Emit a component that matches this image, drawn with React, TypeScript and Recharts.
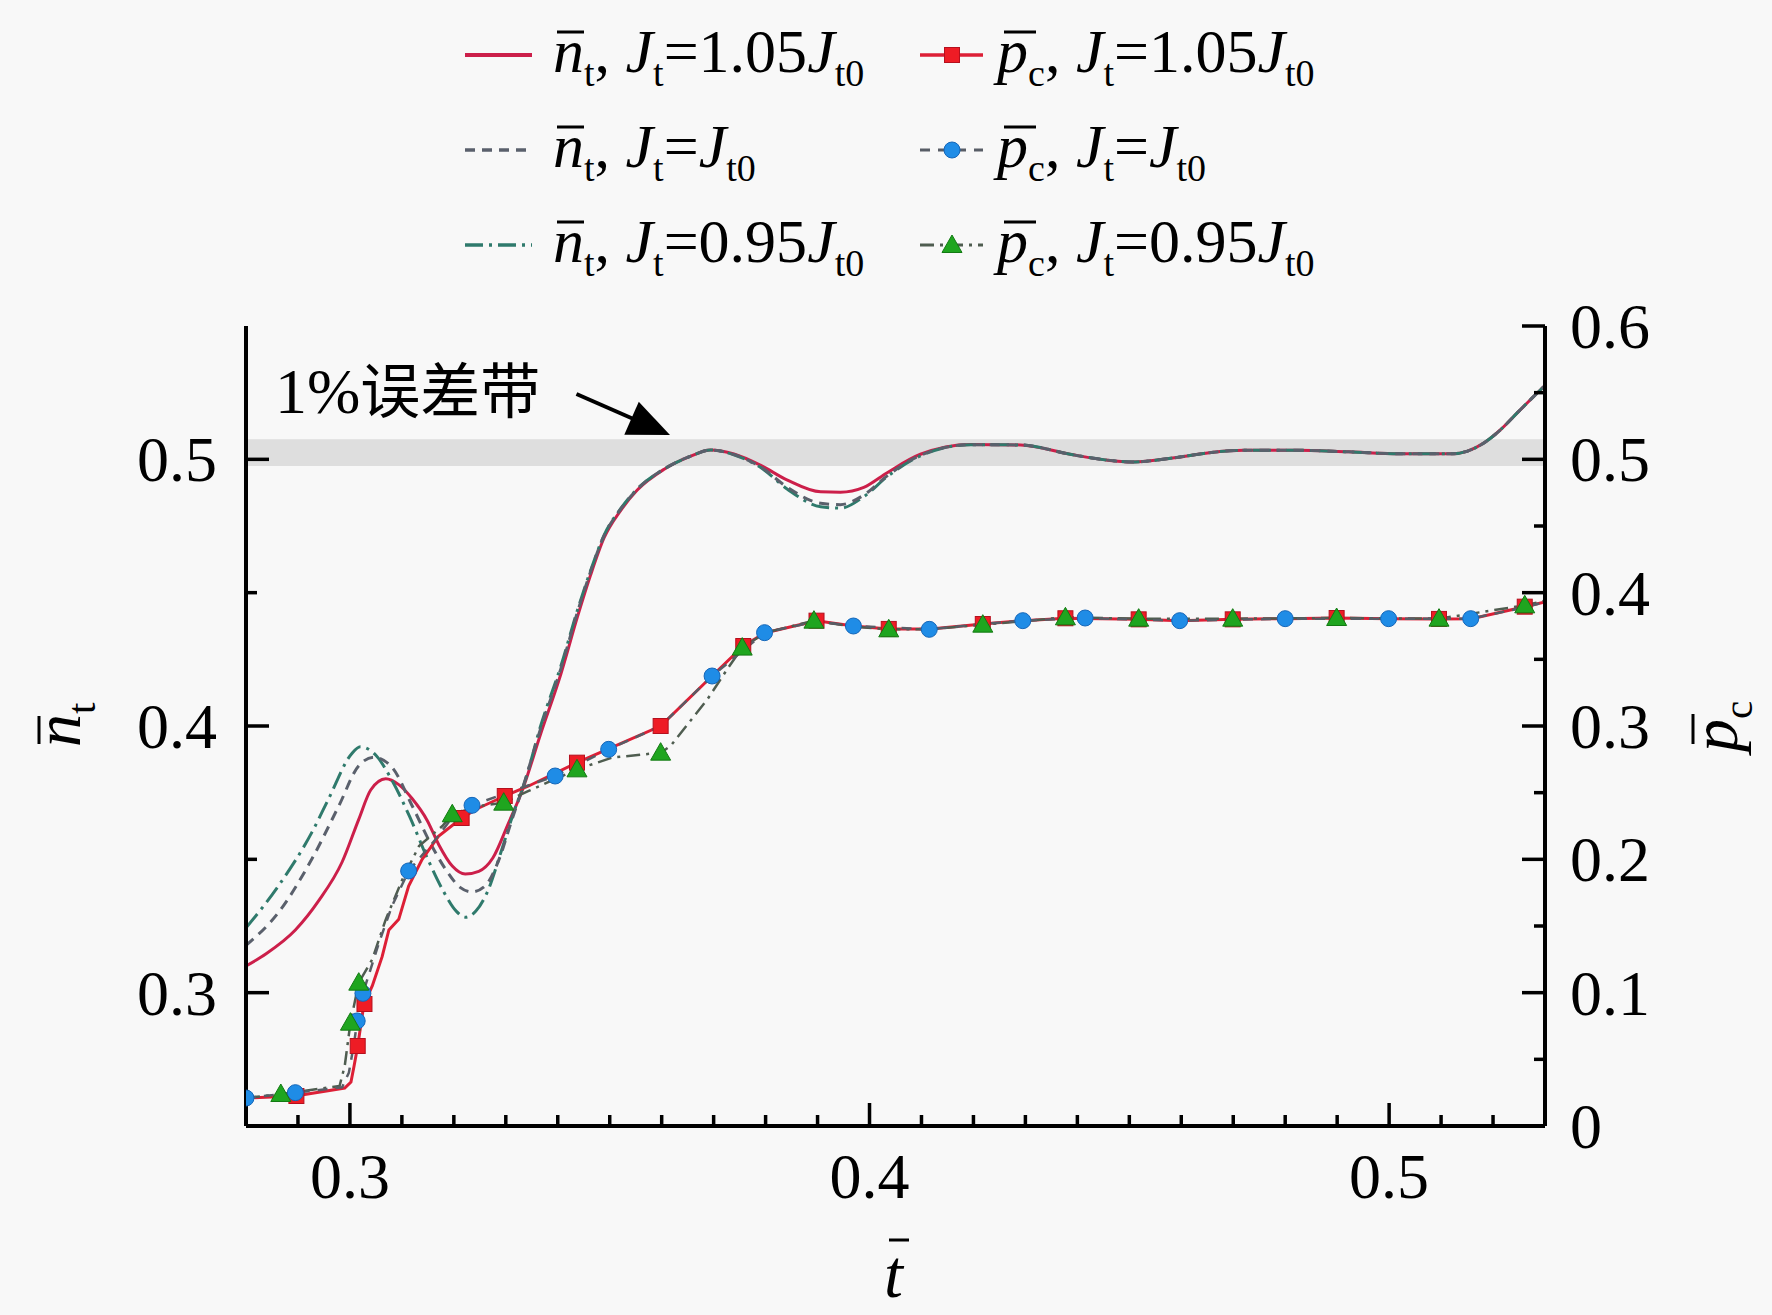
import React from "react";
import {
  ComposedChart,
  Line,
  Scatter,
  XAxis,
  YAxis,
  ReferenceArea,
  ReferenceLine,
} from "recharts";

if (typeof document !== "undefined") {
  document.body.style.margin = "0";
  document.body.style.background = "#f8f8f8";
}

const FONT = '"Liberation Serif", "Times New Roman", serif';
const CJK_ONLY = '"Noto Sans CJK SC", sans-serif';

// ---------- axis ticks ----------
const X_TICKS = [0.28, 0.29, 0.3, 0.31, 0.32, 0.33, 0.34, 0.35, 0.36, 0.37, 0.38, 0.39, 0.4, 0.41, 0.42, 0.43, 0.44, 0.45, 0.46, 0.47, 0.48, 0.49, 0.5, 0.51, 0.52, 0.53];
const X_MAJOR = [0.3, 0.4, 0.5];
const X_LABELS = ["0.3", "0.4", "0.5"];
const NL_TICKS = [0.3, 0.35, 0.4, 0.45, 0.5];
const NL_MAJOR = [0.3, 0.4, 0.5];
const NL_LABELS = ["0.3", "0.4", "0.5"];
const PR_TICKS = [0, 0.05, 0.1, 0.15, 0.2, 0.25, 0.3, 0.35, 0.4, 0.45, 0.5, 0.55, 0.6];
const PR_MAJOR = [0, 0.1, 0.2, 0.3, 0.4, 0.5, 0.6];
const PR_LABELS = ["0", "0.1", "0.2", "0.3", "0.4", "0.5", "0.6"];

// ---------- error band & annotation ----------
const BAND = [0.4975, 0.5075];
const ARROW_FROM = { t: 0.3436, n: 0.5245 };
const ARROW_TO = { t: 0.3616, n: 0.5091 };

// ---------- n_t curves ----------
const N_105: [number, number][] = [
  [0.28, 0.31], [0.2838, 0.3145], [0.2895, 0.3235], [0.294, 0.3345], [0.2985, 0.349],
  [0.3017, 0.365], [0.304, 0.376], [0.3069, 0.3802], [0.3094, 0.378], [0.312, 0.3727],
  [0.3149, 0.3645], [0.3171, 0.3555], [0.3197, 0.3475], [0.3222, 0.3445], [0.3248, 0.3455],
  [0.3275, 0.3505], [0.3305, 0.3635], [0.3332, 0.376], [0.3367, 0.397], [0.3406, 0.4195],
  [0.3438, 0.441], [0.3463, 0.4565], [0.3489, 0.4705], [0.3521, 0.4808], [0.3553, 0.4885],
  [0.3604, 0.4962], [0.3656, 0.5012], [0.3694, 0.5035], [0.3739, 0.502], [0.379, 0.4978],
  [0.3842, 0.4922], [0.3906, 0.4878], [0.3944, 0.4877], [0.3989, 0.4895], [0.4034, 0.495],
  [0.4098, 0.5019], [0.4195, 0.5056], [0.4291, 0.5054], [0.4386, 0.5019], [0.4453, 0.4998],
  [0.4506, 0.499], [0.4587, 0.5006], [0.4654, 0.5025], [0.4721, 0.5034], [0.4821, 0.5034],
  [0.4922, 0.5028], [0.5022, 0.5021], [0.5122, 0.5021], [0.5151, 0.5031], [0.5183, 0.5062],
  [0.5215, 0.5112], [0.5247, 0.5175], [0.5292, 0.5262], [0.53, 0.5277],
];
const N_100: [number, number][] = [
  [0.28, 0.3177], [0.2863, 0.3302], [0.2927, 0.3502], [0.2979, 0.3702], [0.3017, 0.3851],
  [0.3046, 0.3883], [0.3081, 0.3845], [0.312, 0.37], [0.3155, 0.356], [0.3185, 0.346],
  [0.3212, 0.3395], [0.3235, 0.3378], [0.326, 0.34], [0.3287, 0.35], [0.3312, 0.365],
  [0.3332, 0.3765], [0.3367, 0.399], [0.3406, 0.4215], [0.3438, 0.4428], [0.3463, 0.4578],
  [0.3489, 0.4713], [0.3521, 0.4813], [0.3553, 0.4888], [0.3604, 0.4963], [0.3656, 0.5012],
  [0.3694, 0.5035], [0.3739, 0.5018], [0.379, 0.4972], [0.3842, 0.4895], [0.3906, 0.4835],
  [0.3944, 0.483], [0.3989, 0.4866], [0.4034, 0.4938], [0.4098, 0.5015], [0.4195, 0.5055],
  [0.4291, 0.5054], [0.4386, 0.5019], [0.4453, 0.4998], [0.4506, 0.499], [0.4587, 0.5006],
  [0.4654, 0.5025], [0.4721, 0.5034], [0.4821, 0.5034], [0.4922, 0.5028], [0.5022, 0.5021],
  [0.5122, 0.5021], [0.5151, 0.5031], [0.5183, 0.5062], [0.5215, 0.5112], [0.5247, 0.5175],
  [0.5292, 0.5262], [0.53, 0.5277],
];
const N_095: [number, number][] = [
  [0.28, 0.3243], [0.2863, 0.3402], [0.2927, 0.3602], [0.2959, 0.3727], [0.3003, 0.3895],
  [0.302, 0.3922], [0.305, 0.389], [0.308, 0.38], [0.3115, 0.366], [0.315, 0.35],
  [0.318, 0.338], [0.3205, 0.3305], [0.3222, 0.3283], [0.3242, 0.3305], [0.3265, 0.338],
  [0.3292, 0.3535], [0.3315, 0.3675], [0.3338, 0.38], [0.3367, 0.4], [0.3406, 0.4225],
  [0.3438, 0.4435], [0.3463, 0.4582], [0.3489, 0.4715], [0.3521, 0.4815], [0.3553, 0.4889],
  [0.3604, 0.4963], [0.3656, 0.5012], [0.3694, 0.5035], [0.3739, 0.5017], [0.379, 0.497],
  [0.3842, 0.4888], [0.3906, 0.4822], [0.3944, 0.4817], [0.3989, 0.486], [0.4034, 0.4935],
  [0.4098, 0.5013], [0.4195, 0.5055], [0.4291, 0.5054], [0.4386, 0.5019], [0.4453, 0.4998],
  [0.4506, 0.499], [0.4587, 0.5006], [0.4654, 0.5025], [0.4721, 0.5034], [0.4821, 0.5034],
  [0.4922, 0.5028], [0.5022, 0.5021], [0.5122, 0.5021], [0.5151, 0.5031], [0.5183, 0.5062],
  [0.5215, 0.5112], [0.5247, 0.5175], [0.5292, 0.5262], [0.53, 0.5277],
];

// ---------- p_c curves ----------
const P_105: [number, number][] = [
  [0.28, 0.021], [0.2895, 0.0225], [0.299, 0.0285], [0.3002, 0.033], [0.3008, 0.045],
  [0.3015, 0.06], [0.3027, 0.0915], [0.3043, 0.105], [0.3062, 0.127], [0.3075, 0.147],
  [0.3094, 0.155], [0.3113, 0.18], [0.3139, 0.2], [0.3171, 0.2175], [0.3215, 0.231],
  [0.3248, 0.2385], [0.3298, 0.2475], [0.3344, 0.255], [0.3437, 0.2725], [0.3598, 0.3],
  [0.3697, 0.3375], [0.3757, 0.36], [0.38, 0.37], [0.3898, 0.379], [0.3969, 0.375],
  [0.4037, 0.3728], [0.4117, 0.3728], [0.4218, 0.3765], [0.4296, 0.379], [0.4377, 0.3808],
  [0.4518, 0.38], [0.4597, 0.379], [0.4699, 0.38], [0.4801, 0.3805], [0.4899, 0.381],
  [0.4999, 0.3805], [0.5096, 0.3803], [0.5159, 0.3805], [0.5261, 0.3895], [0.53, 0.393],
];
const P_100: [number, number][] = [
  [0.28, 0.021], [0.2895, 0.025], [0.2985, 0.029], [0.2998, 0.04], [0.3008, 0.062],
  [0.3014, 0.0788], [0.3025, 0.0995], [0.3056, 0.1375], [0.3081, 0.165], [0.3113, 0.1913],
  [0.3165, 0.215], [0.32, 0.233], [0.3235, 0.2405], [0.3395, 0.2625], [0.3498, 0.2825],
  [0.3598, 0.3], [0.3697, 0.3375], [0.3798, 0.37], [0.3898, 0.3785], [0.3969, 0.375],
  [0.4115, 0.3725], [0.4218, 0.3765], [0.4295, 0.379], [0.4415, 0.381], [0.4597, 0.379],
  [0.48, 0.3805], [0.4999, 0.3805], [0.5157, 0.3805], [0.5261, 0.389], [0.53, 0.393],
];
const P_095: [number, number][] = [
  [0.28, 0.021], [0.2867, 0.024], [0.298, 0.03], [0.299, 0.045], [0.3001, 0.0775],
  [0.3017, 0.1075], [0.3043, 0.125], [0.3069, 0.155], [0.3101, 0.185], [0.3133, 0.21],
  [0.3178, 0.225], [0.3197, 0.2338], [0.3248, 0.24], [0.3296, 0.2425], [0.3344, 0.2513],
  [0.3437, 0.2675], [0.3505, 0.2763], [0.3598, 0.28], [0.3617, 0.285], [0.3688, 0.32],
  [0.3726, 0.3425], [0.3755, 0.3588], [0.38, 0.37], [0.3893, 0.379], [0.3969, 0.3745],
  [0.4037, 0.3725], [0.4117, 0.3725], [0.4218, 0.376], [0.4377, 0.3815], [0.4518, 0.3805],
  [0.4699, 0.3805], [0.4899, 0.381], [0.5096, 0.3805], [0.5261, 0.3905], [0.53, 0.394],
];

// ---------- p_c markers ----------
const M_105: [number, number][] = [
  [0.2897, 0.0225], [0.3015, 0.06], [0.3028, 0.0915], [0.3215, 0.231], [0.3298, 0.2475],
  [0.3437, 0.2725], [0.3598, 0.3], [0.3757, 0.36], [0.3898, 0.379], [0.4037, 0.3728],
  [0.4218, 0.3765], [0.4377, 0.3808], [0.4518, 0.38], [0.4699, 0.38], [0.4899, 0.381],
  [0.5096, 0.3803], [0.5261, 0.3895],
];
const M_100: [number, number][] = [
  [0.28, 0.021], [0.2895, 0.025], [0.3014, 0.0788], [0.3025, 0.0995], [0.3113, 0.1913],
  [0.3235, 0.2405], [0.3395, 0.2625], [0.3498, 0.2825], [0.3697, 0.3375], [0.3798, 0.37],
  [0.3969, 0.375], [0.4115, 0.3725], [0.4295, 0.379], [0.4415, 0.381], [0.4597, 0.379],
  [0.48, 0.3805], [0.4999, 0.3805], [0.5157, 0.3805],
];
const M_095: [number, number][] = [
  [0.2867, 0.024], [0.3001, 0.0775], [0.3017, 0.1075], [0.3197, 0.2338], [0.3296, 0.2425],
  [0.3437, 0.2675], [0.3598, 0.28], [0.3755, 0.3588], [0.3893, 0.379], [0.4037, 0.3725],
  [0.4218, 0.376], [0.4377, 0.3815], [0.4518, 0.3805], [0.4699, 0.3805], [0.4899, 0.381],
  [0.5096, 0.3805], [0.5261, 0.3905],
];

const toN = (a: [number, number][]) => a.map(([t, n]) => ({ t, n }));
const toP = (a: [number, number][]) => a.map(([t, p]) => ({ t, p }));

// ---------- colours ----------
const C_N105 = "#cc1f4a";
const C_N100 = "#5a606c";
const C_N095 = "#2f7a6c";
const C_P105 = "#dd1f36";
const C_P100 = "#585d66";
const C_P095 = "#4f5d50";
const C_SQ = "#ee1c25";
const C_CI = "#1f8ce6";
const C_TR = "#1fa51f";
const DASH_N100 = "10 7";
const DASH_N095 = "18 6 3 6";
const DASH_P100 = "10 8";
const DASH_P095 = "14 6 3 6";

const near = (arr: number[], v: number) => arr.findIndex((m) => Math.abs(m - v) < 1e-9);

const BottomTick = (props: any) => {
  const { x, y, payload } = props;
  const i = near(X_MAJOR, payload.value);
  return (
    <g>
      <line x1={x} x2={x} y1={y} y2={y - (i >= 0 ? 23 : 11)} stroke="#000" strokeWidth={3.5} />
      {i >= 0 && (
        <text x={x} y={y + 72} textAnchor="middle" fontSize={64} fontFamily={FONT} fill="#000">
          {X_LABELS[i]}
        </text>
      )}
    </g>
  );
};
const TopTick = (props: any) => {
  const { x, y, payload } = props;
  const i = near(X_MAJOR, payload.value);
  return <line x1={x} x2={x} y1={y} y2={y + (i >= 0 ? 23 : 11)} stroke="#000" strokeWidth={3.5} />;
};
const LeftTick = (props: any) => {
  const { x, y, payload } = props;
  const i = near(NL_MAJOR, payload.value);
  return (
    <g>
      <line x1={x} x2={x + (i >= 0 ? 23 : 11)} y1={y} y2={y} stroke="#000" strokeWidth={3.5} />
      {i >= 0 && (
        <text x={x - 29} y={y + 22} textAnchor="end" fontSize={64} fontFamily={FONT} fill="#000">
          {NL_LABELS[i]}
        </text>
      )}
    </g>
  );
};
const RightTick = (props: any) => {
  const { x, y, payload } = props;
  const i = near(PR_MAJOR, payload.value);
  return (
    <g>
      <line x1={x} x2={x - (i >= 0 ? 23 : 11)} y1={y} y2={y} stroke="#000" strokeWidth={3.5} />
      {i >= 0 && (
        <text x={x + 25} y={y + 22} textAnchor="start" fontSize={64} fontFamily={FONT} fill="#000">
          {PR_LABELS[i]}
        </text>
      )}
    </g>
  );
};

const Square = (props: any) => {
  const { cx, cy } = props;
  if (cx == null || cy == null) return null;
  return <rect x={cx - 7.5} y={cy - 7.5} width={15} height={15} fill={C_SQ} stroke="#b5101e" strokeWidth={1} />;
};
const Circ = (props: any) => {
  const { cx, cy } = props;
  if (cx == null || cy == null) return null;
  return <circle cx={cx} cy={cy} r={8} fill={C_CI} stroke="#1566b8" strokeWidth={1} />;
};
const Tri = (props: any) => {
  const { cx, cy } = props;
  if (cx == null || cy == null) return null;
  return (
    <polygon
      points={`${cx},${cy - 10} ${cx - 10},${cy + 7.5} ${cx + 10},${cy + 7.5}`}
      fill={C_TR}
      stroke="#137a13"
      strokeWidth={1}
    />
  );
};

const ArrowShape = (props: any) => {
  const { x1, y1, x2, y2 } = props;
  if ([x1, y1, x2, y2].some((v) => v == null || isNaN(v))) return null;
  const dx = x2 - x1;
  const dy = y2 - y1;
  const L = Math.sqrt(dx * dx + dy * dy);
  const ux = dx / L;
  const uy = dy / L;
  const hl = 42;
  const hw = 18;
  const bx = x2 - ux * hl;
  const by = y2 - uy * hl;
  return (
    <g>
      <line x1={x1} y1={y1} x2={bx + ux * 4} y2={by + uy * 4} stroke="#000" strokeWidth={4} />
      <polygon
        points={`${x2},${y2} ${bx - uy * hw},${by + ux * hw} ${bx + uy * hw},${by - ux * hw}`}
        fill="#000"
      />
    </g>
  );
};

// ---------- rich legend text ----------
type Part = { s: string; it?: boolean; sub?: boolean };
const RichText = ({ x, y, parts, size }: { x: number; y: number; parts: Part[]; size: number }) => {
  const subSize = Math.round(size * 0.62);
  const shift = Math.round(size * 0.22);
  let cur = 0;
  return (
    <text x={x} y={y} fontSize={size} fontFamily={FONT} fill="#000">
      {parts.map((p, k) => {
        const want = p.sub ? shift : 0;
        const dy = want - cur;
        cur = want;
        return (
          <tspan
            key={k}
            dy={dy}
            fontSize={p.sub ? subSize : size}
            fontStyle={p.it ? "italic" : "normal"}
          >
            {p.s}
          </tspan>
        );
      })}
    </text>
  );
};

const LEGEND_COEF = ["1.05", "", "0.95"];
const nParts = (c: string): Part[] => [
  { s: "n", it: true }, { s: "t", sub: true }, { s: ", " }, { s: "J", it: true }, { s: "t", sub: true },
  { s: "=" + c }, { s: "J", it: true }, { s: "t0", sub: true },
];
const pParts = (c: string): Part[] => [
  { s: "p", it: true }, { s: "c", sub: true }, { s: ", " }, { s: "J", it: true }, { s: "t", sub: true },
  { s: "=" + c }, { s: "J", it: true }, { s: "t0", sub: true },
];

const LEG_BASE = [72, 167, 262];

const Overlay = () => (
  <svg width={1772} height={1315} style={{ position: "absolute", left: 0, top: 0, pointerEvents: "none" }}>
    {LEG_BASE.map((b, r) => {
      const ly = b - 17;
      return (
        <g key={r}>
          {r === 0 && <line x1={465} x2={532} y1={ly} y2={ly} stroke={C_N105} strokeWidth={4} />}
          {r === 1 && <line x1={465} x2={532} y1={ly} y2={ly} stroke={C_N100} strokeWidth={3.5} strokeDasharray={DASH_N100} />}
          {r === 2 && <line x1={465} x2={532} y1={ly} y2={ly} stroke={C_N095} strokeWidth={3.5} strokeDasharray={DASH_N095} />}
          <RichText x={553} y={b} parts={nParts(LEGEND_COEF[r])} size={62} />
          <line x1={557} x2={584} y1={b - 40} y2={b - 40} stroke="#000" strokeWidth={3} />

          {r === 0 && <line x1={920} x2={983} y1={ly} y2={ly} stroke={C_P105} strokeWidth={3.5} />}
          {r === 1 && <line x1={920} x2={983} y1={ly} y2={ly} stroke={C_P100} strokeWidth={3} strokeDasharray={DASH_P100} />}
          {r === 2 && <line x1={920} x2={983} y1={ly} y2={ly} stroke={C_P095} strokeWidth={3} strokeDasharray={DASH_P095} />}
          {r === 0 && <Square cx={952} cy={ly} />}
          {r === 1 && <Circ cx={952} cy={ly} />}
          {r === 2 && <Tri cx={952} cy={ly} />}
          <RichText x={997} y={b} parts={pParts(LEGEND_COEF[r])} size={62} />
          <line x1={1004} x2={1036} y1={b - 40} y2={b - 40} stroke="#000" strokeWidth={3} />
        </g>
      );
    })}

    {/* annotation */}
    <text x={275} y={413} fontSize={64} fontFamily={FONT} fill="#000">
      <tspan>1%</tspan>
      <tspan fontFamily={CJK_ONLY} fontSize={60}>误差带</tspan>
    </text>

    {/* x axis title */}
    <text x={884} y={1297} fontSize={68} fontFamily={FONT} fontStyle="italic" fill="#000">
      t
    </text>
    <line x1={889} x2={909} y1={1240} y2={1240} stroke="#000" strokeWidth={3} />

    {/* left axis title */}
    <g transform="translate(80,747) rotate(-90)">
      <RichText x={0} y={0} parts={[{ s: "n", it: true }, { s: "t", sub: true }]} size={66} />
      <line x1={3} x2={31} y1={-41} y2={-41} stroke="#000" strokeWidth={3} />
    </g>

    {/* right axis title */}
    <g transform="translate(1737,752) rotate(-90)">
      <RichText x={0} y={0} parts={[{ s: "p", it: true }, { s: "c", sub: true }]} size={66} />
      <line x1={8} x2={38} y1={-44} y2={-44} stroke="#000" strokeWidth={3} />
    </g>
  </svg>
);

export default function App() {
  return (
    <div style={{ position: "relative", width: 1772, height: 1315, background: "#f8f8f8" }}>
      <ComposedChart width={1772} height={1315} margin={{ top: 326, right: 0, bottom: 0, left: 0 }}>
        <XAxis
          xAxisId="bottom"
          dataKey="t"
          type="number"
          domain={[0.28, 0.53]}
          allowDataOverflow
          ticks={X_TICKS}
          interval={0}
          height={189}
          tickSize={0}
          tickMargin={0}
          tickLine={false}
          tick={<BottomTick />}
          axisLine={{ stroke: "#000", strokeWidth: 4 }}
        />
        <XAxis
          xAxisId="top"
          orientation="top"
          dataKey="t"
          type="number"
          domain={[0.28, 0.53]}
          allowDataOverflow
          ticks={X_TICKS}
          interval={0}
          height={0}
          tickSize={0}
          tickMargin={0}
          tickLine={false}
          tick={<TopTick />}
          axisLine={{ stroke: "#000", strokeWidth: 4 }}
        />
        <YAxis
          yAxisId="left"
          type="number"
          domain={[0.25, 0.55]}
          allowDataOverflow
          ticks={NL_TICKS}
          interval={0}
          width={246}
          tickSize={0}
          tickMargin={0}
          tickLine={false}
          tick={<LeftTick />}
          axisLine={{ stroke: "#000", strokeWidth: 4 }}
        />
        <YAxis
          yAxisId="right"
          orientation="right"
          dataKey="p"
          type="number"
          domain={[0, 0.6]}
          allowDataOverflow
          ticks={PR_TICKS}
          interval={0}
          width={227}
          tickSize={0}
          tickMargin={0}
          tickLine={false}
          tick={<RightTick />}
          axisLine={{ stroke: "#000", strokeWidth: 4 }}
        />

        <ReferenceArea
          xAxisId="bottom"
          yAxisId="left"
          y1={BAND[0]}
          y2={BAND[1]}
          fill="#dedede"
          fillOpacity={1}
          stroke="none"
          ifOverflow="hidden"
        />

        <Line data={toN(N_105)} dataKey="n" xAxisId="bottom" yAxisId="left" type="monotone" stroke={C_N105} strokeWidth={3} dot={false} isAnimationActive={false} />
        <Line data={toN(N_095)} dataKey="n" xAxisId="bottom" yAxisId="left" type="monotone" stroke={C_N095} strokeWidth={3} strokeDasharray={DASH_N095} dot={false} isAnimationActive={false} />
        <Line data={toN(N_100)} dataKey="n" xAxisId="bottom" yAxisId="left" type="monotone" stroke={C_N100} strokeWidth={3} strokeDasharray={DASH_N100} dot={false} isAnimationActive={false} />

        <Line data={toP(P_105)} dataKey="p" xAxisId="bottom" yAxisId="right" type="linear" stroke={C_P105} strokeWidth={3} dot={false} isAnimationActive={false} />
        <Line data={toP(P_095)} dataKey="p" xAxisId="bottom" yAxisId="right" type="linear" stroke={C_P095} strokeWidth={2.5} strokeDasharray={DASH_P095} dot={false} isAnimationActive={false} />
        <Line data={toP(P_100)} dataKey="p" xAxisId="bottom" yAxisId="right" type="linear" stroke={C_P100} strokeWidth={2.5} strokeDasharray={DASH_P100} dot={false} isAnimationActive={false} />

        <Scatter data={toP(M_105)} dataKey="p" xAxisId="bottom" yAxisId="right" shape={Square} isAnimationActive={false} />
        <Scatter data={toP(M_100)} dataKey="p" xAxisId="bottom" yAxisId="right" shape={Circ} isAnimationActive={false} />
        <Scatter data={toP(M_095)} dataKey="p" xAxisId="bottom" yAxisId="right" shape={Tri} isAnimationActive={false} />

        <ReferenceLine
          xAxisId="bottom"
          yAxisId="left"
          segment={[
            { x: ARROW_FROM.t, y: ARROW_FROM.n },
            { x: ARROW_TO.t, y: ARROW_TO.n },
          ]}
          shape={ArrowShape}
        />
      </ComposedChart>
      <Overlay />
    </div>
  );
}
